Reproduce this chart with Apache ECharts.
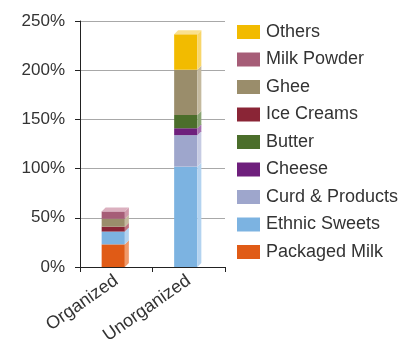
<!DOCTYPE html>
<html>
<head>
<meta charset="utf-8">
<script src="https://cdn.jsdelivr.net/npm/echarts@6/dist/echarts.min.js"></script>
<style>
  html, body { margin: 0; padding: 0; background: #fff; }
  #chart { width: 411px; height: 343px; }
</style>
</head>
<body>
<div id="chart"></div>
<script>
// categories and stacked shares (%)
var categories = ['Organized', 'Unorganized'];
var packagedMilk = [23, 0];
var ethnicSweets = [13, 102];
var curdProducts = [0, 32];
var cheese = [0, 7];
var butter = [0, 13.5];
var iceCreams = [5, 0];
var ghee = [8, 46];
var milkPowder = [7.5, 0];
var others = [0, 36];

var yTicks = [0, 50, 100, 150, 200, 250];

// bottom -> top stacking order
var stackDefs = [
  { name: 'Packaged Milk', values: packagedMilk, color: '#e05b16', side: '#f09a6a', top: '#f4ae86' },
  { name: 'Ethnic Sweets', values: ethnicSweets, color: '#7cb3e1', side: '#b3d3f0', top: '#c5def4' },
  { name: 'Curd & Products', values: curdProducts, color: '#9ea6cc', side: '#c6cbe3', top: '#d4d8ea' },
  { name: 'Cheese', values: cheese, color: '#6e1f7c', side: '#a670b0', top: '#b88cc0' },
  { name: 'Butter', values: butter, color: '#4b6e2b', side: '#8aa574', top: '#a0b78d' },
  { name: 'Ice Creams', values: iceCreams, color: '#8a2536', side: '#bd7581', top: '#cb8f99' },
  { name: 'Ghee', values: ghee, color: '#9a8d6b', side: '#c4b99e', top: '#d2c9b2' },
  { name: 'Milk Powder', values: milkPowder, color: '#a65d77', side: '#cf99ab', top: '#dbb0bf' },
  { name: 'Others', values: others, color: '#f2bb00', side: '#f8d66a', top: '#fae08e' }
];

var depth = 4;

// which segment is the highest non-zero one per category
var topIndex = categories.map(function (c, ci) {
  var t = -1;
  stackDefs.forEach(function (s, si) { if (s.values[ci] > 0) t = si; });
  return t;
});

var series = stackDefs.map(function (s, si) {
  var data = categories.map(function (c, ci) {
    var base = 0;
    for (var k = 0; k < si; k++) base += stackDefs[k].values[ci];
    return [ci, base, base + s.values[ci], s.values[ci]];
  });
  return {
    name: s.name,
    type: 'custom',
    itemStyle: { color: s.color },
    encode: { x: 0, y: [1, 2] },
    data: data,
    z: 2 + si,
    renderItem: function (params, api) {
      var ci = api.value(0);
      if (api.value(3) <= 0) return null;
      var pb = api.coord([ci, api.value(1)]);
      var pt = api.coord([ci, api.value(2)]);
      var w = api.size([1, 0])[0] * 0.32;
      var x0 = pb[0] - (w + depth) / 2 - 1;
      var x1 = x0 + w;
      var yb = pb[1], yt = pt[1];
      var children = [
        { type: 'rect', shape: { x: x0, y: yt, width: w, height: yb - yt }, style: { fill: s.color } },
        { type: 'polygon', shape: { points: [[x1, yt], [x1 + depth, yt - depth], [x1 + depth, yb - depth], [x1, yb]] }, style: { fill: s.side } }
      ];
      if (topIndex[ci] === si) {
        children.push({ type: 'polygon', shape: { points: [[x0, yt], [x0 + depth, yt - depth], [x1 + depth, yt - depth], [x1, yt]] }, style: { fill: s.top } });
      }
      return { type: 'group', children: children };
    }
  };
});

var chart = echarts.init(document.getElementById('chart'));
chart.setOption({
  animation: false,
  textStyle: { fontFamily: 'Liberation Sans, Arial, sans-serif' },
  grid: { left: 80, right: 186, top: 21, bottom: 76, outerBoundsMode: 'none', containLabel: false },
  legend: {
    orient: 'vertical',
    left: 237,
    top: 23,
    padding: 0,
    itemWidth: 23,
    itemHeight: 14,
    itemGap: 9.5,
    icon: 'rect',
    data: stackDefs.map(function (s) { return s.name; }).reverse(),
    textStyle: { fontSize: 18, color: '#333', padding: [0, 0, 0, 1] }
  },
  xAxis: {
    type: 'category',
    data: categories,
    axisLine: { lineStyle: { color: '#222', width: 1 } },
    axisTick: { show: true, alignWithLabel: false, length: 5, lineStyle: { color: '#222' } },
    axisLabel: { rotate: 35, fontSize: 18, color: '#333', margin: 12, interval: 0 },
    splitLine: { show: false }
  },
  yAxis: {
    type: 'value',
    min: yTicks[0],
    max: yTicks[yTicks.length - 1],
    interval: 50,
    axisLine: { show: true, lineStyle: { color: '#222', width: 1 } },
    axisTick: { show: true, length: 5, lineStyle: { color: '#222' } },
    axisLabel: { formatter: '{value}%', fontSize: 17, color: '#333', margin: 15 },
    splitLine: { lineStyle: { color: '#a8a8a8', width: 1 } }
  },
  series: series
});
</script>
</body>
</html>
